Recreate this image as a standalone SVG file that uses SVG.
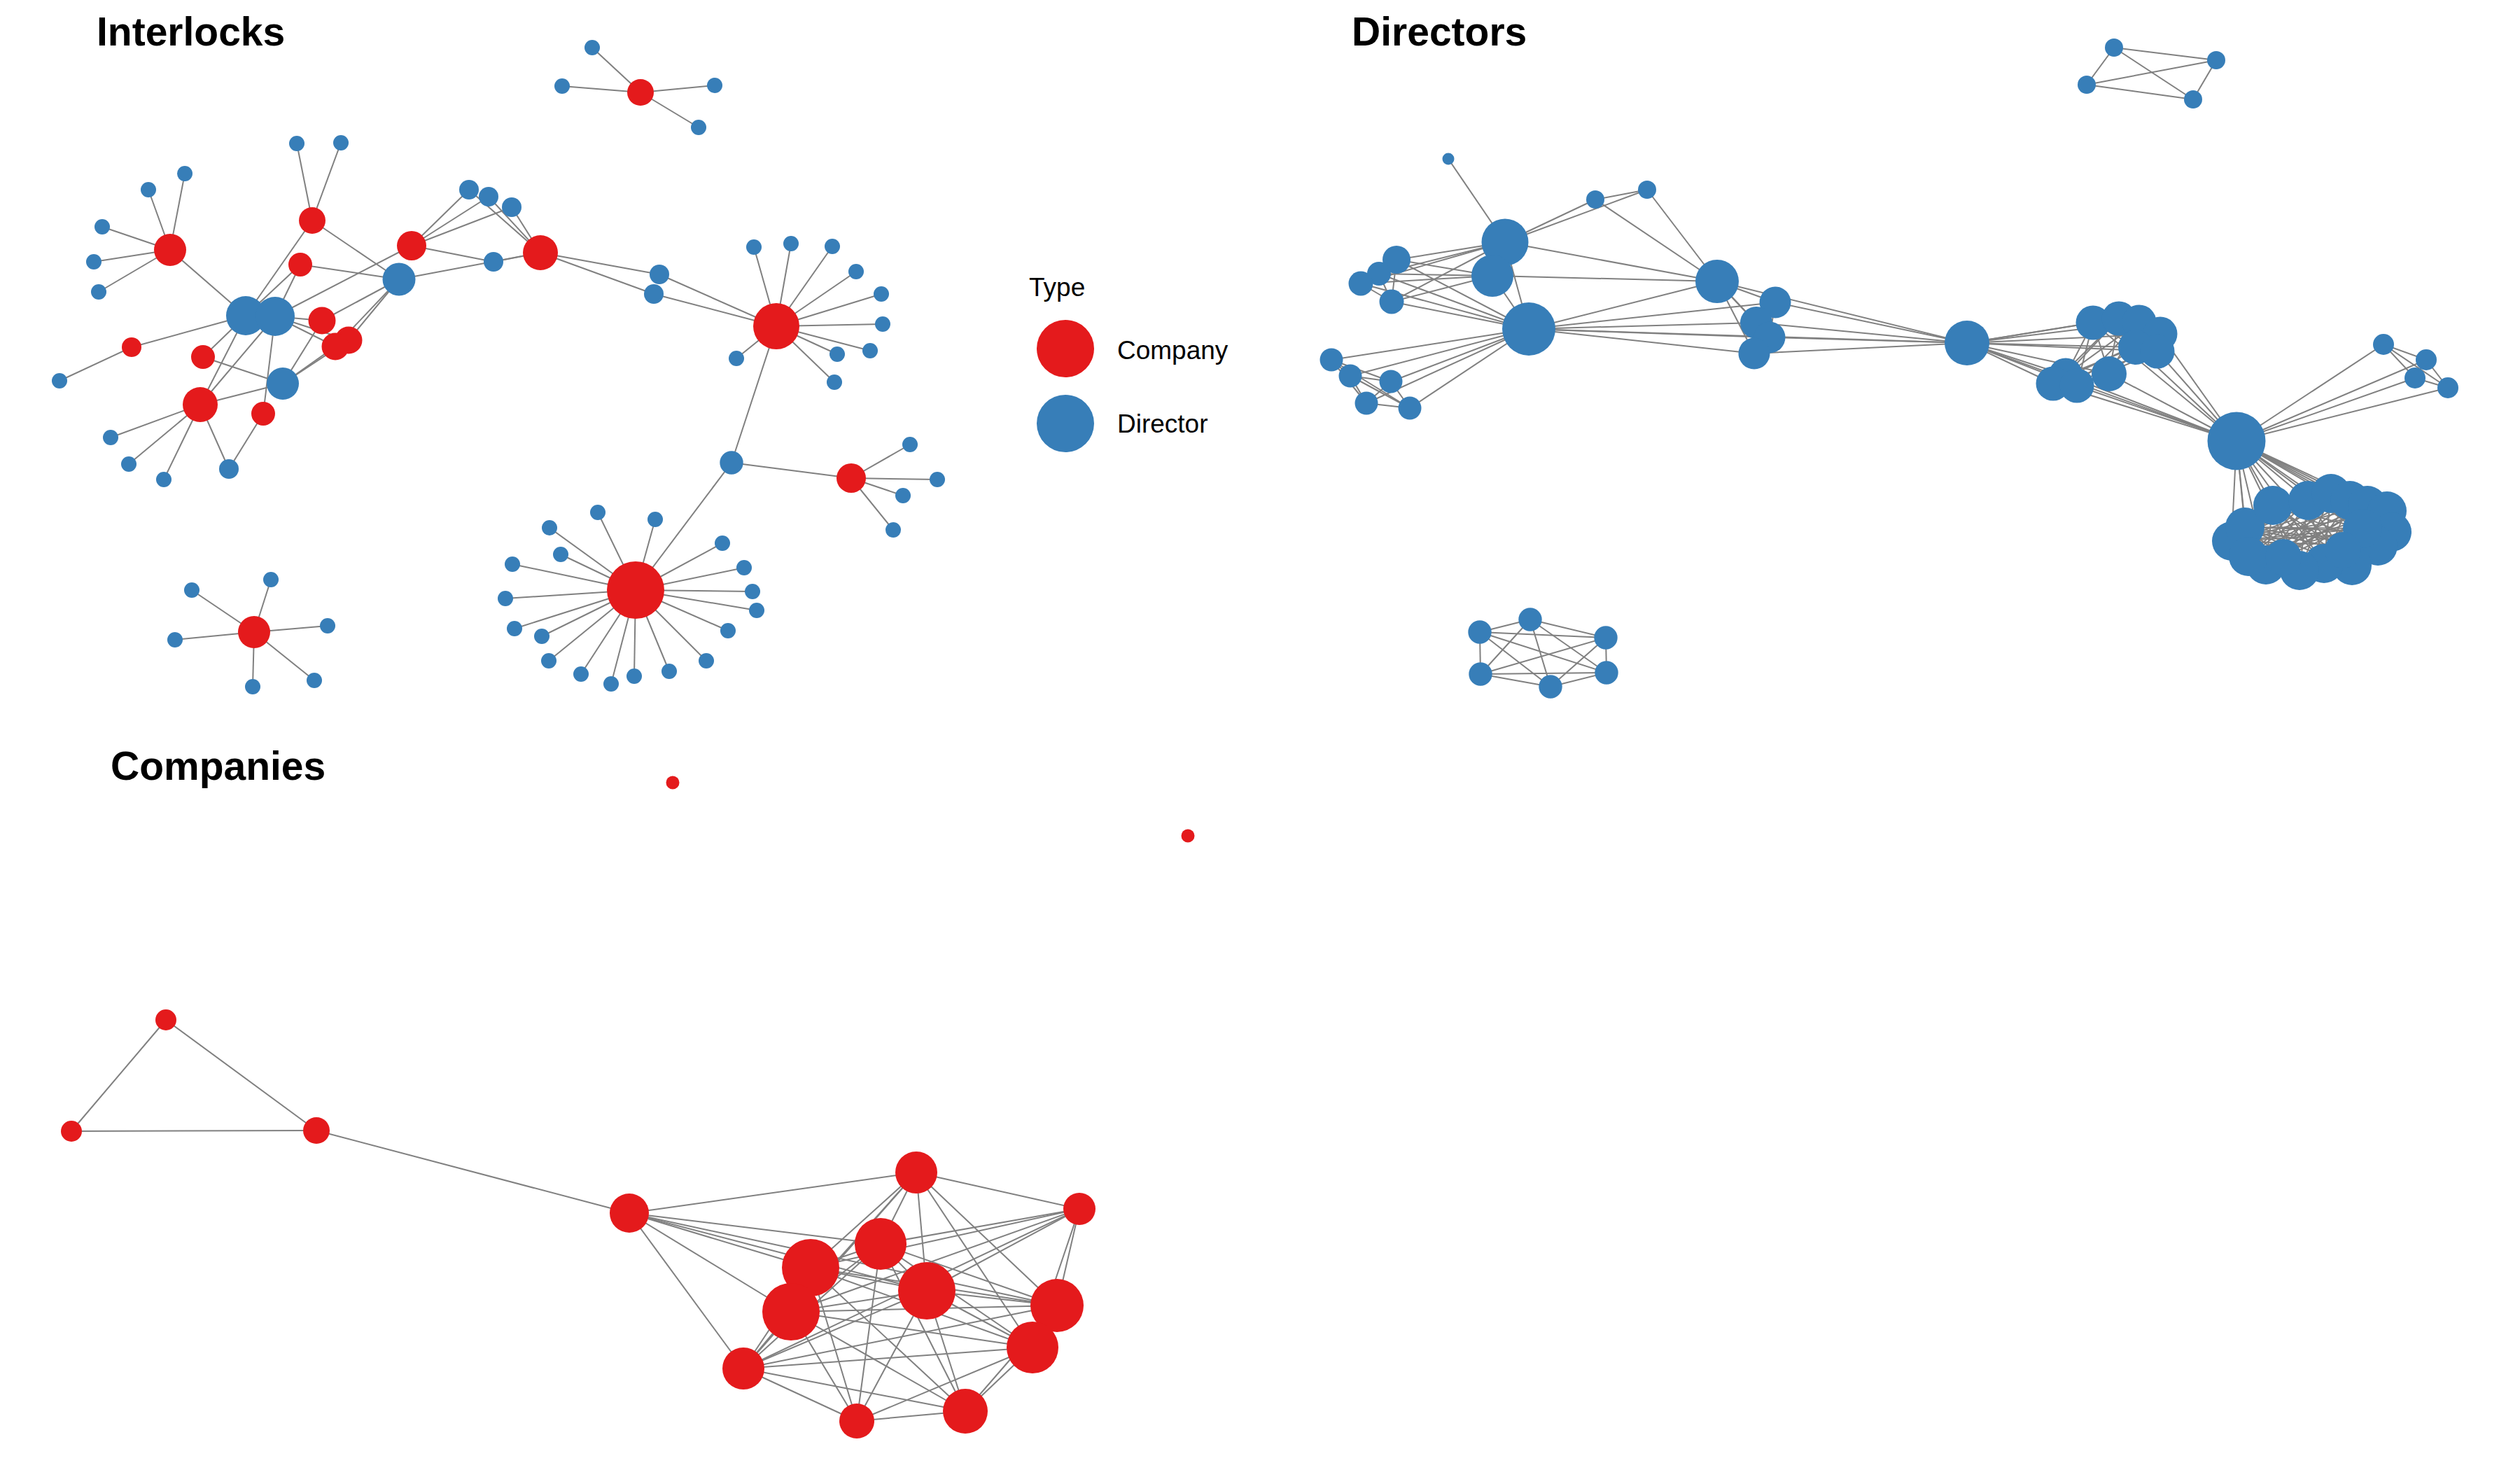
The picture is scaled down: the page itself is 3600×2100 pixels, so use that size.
<svg xmlns="http://www.w3.org/2000/svg" width="3600" height="2100" viewBox="0 0 3600 2100">
<style>
.e line{stroke:#808080;stroke-width:2}
.c{fill:#E41A1C}
.d{fill:#377EB8}
.t{font-family:"Liberation Sans",Arial,sans-serif;font-weight:bold;font-size:57px;fill:#000}
.l{font-family:"Liberation Sans",Arial,sans-serif;font-size:37px;fill:#000}
</style>
<rect width="3600" height="2100" fill="#fff"/>
<text class="t" x="138" y="65">Interlocks</text>
<text class="t" x="1931" y="65">Directors</text>
<text class="t" x="158" y="1114">Companies</text>
<g id="legend">
<text class="l" x="1470" y="423">Type</text>
<circle class="c" cx="1522" cy="498" r="41"/>
<text class="l" x="1596" y="513">Company</text>
<circle class="d" cx="1522" cy="605" r="41"/>
<text class="l" x="1596" y="618">Director</text>
</g>
<g id="connectors" class="e">
<line x1="915" y1="132" x2="846" y2="68"/><line x1="915" y1="132" x2="803" y2="123"/><line x1="915" y1="132" x2="1021" y2="122"/><line x1="915" y1="132" x2="998" y2="182"/>
<line x1="243" y1="357" x2="212" y2="271"/><line x1="243" y1="357" x2="264" y2="248"/><line x1="243" y1="357" x2="146" y2="324"/><line x1="243" y1="357" x2="134" y2="374"/><line x1="243" y1="357" x2="141" y2="417"/><line x1="243" y1="357" x2="351" y2="451"/>
<line x1="446" y1="315" x2="424" y2="205"/><line x1="446" y1="315" x2="487" y2="204"/><line x1="446" y1="315" x2="570" y2="399"/><line x1="446" y1="315" x2="351" y2="451"/>
<line x1="429" y1="378" x2="570" y2="399"/><line x1="429" y1="378" x2="351" y2="451"/><line x1="429" y1="378" x2="393" y2="452"/>
<line x1="588" y1="351" x2="670" y2="271"/><line x1="588" y1="351" x2="698" y2="281"/><line x1="588" y1="351" x2="731" y2="296"/><line x1="588" y1="351" x2="705" y2="374"/><line x1="588" y1="351" x2="393" y2="452"/>
<line x1="772" y1="361" x2="670" y2="271"/><line x1="772" y1="361" x2="698" y2="281"/><line x1="772" y1="361" x2="731" y2="296"/><line x1="772" y1="361" x2="705" y2="374"/><line x1="772" y1="361" x2="570" y2="399"/><line x1="772" y1="361" x2="942" y2="392"/><line x1="772" y1="361" x2="934" y2="420"/>
<line x1="460" y1="458" x2="570" y2="399"/><line x1="460" y1="458" x2="393" y2="452"/><line x1="460" y1="458" x2="404" y2="548"/>
<line x1="498" y1="486" x2="570" y2="399"/><line x1="498" y1="486" x2="393" y2="452"/><line x1="498" y1="486" x2="404" y2="548"/>
<line x1="479" y1="495" x2="570" y2="399"/><line x1="479" y1="495" x2="393" y2="452"/><line x1="479" y1="495" x2="404" y2="548"/>
<line x1="188" y1="496" x2="351" y2="451"/><line x1="188" y1="496" x2="85" y2="544"/>
<line x1="290" y1="510" x2="351" y2="451"/><line x1="290" y1="510" x2="404" y2="548"/>
<line x1="286" y1="578" x2="351" y2="451"/><line x1="286" y1="578" x2="393" y2="452"/><line x1="286" y1="578" x2="404" y2="548"/><line x1="286" y1="578" x2="158" y2="625"/><line x1="286" y1="578" x2="184" y2="663"/><line x1="286" y1="578" x2="234" y2="685"/><line x1="286" y1="578" x2="327" y2="670"/>
<line x1="376" y1="591" x2="393" y2="452"/><line x1="376" y1="591" x2="327" y2="670"/>
<line x1="1109" y1="466" x2="942" y2="392"/><line x1="1109" y1="466" x2="934" y2="420"/><line x1="1109" y1="466" x2="1077" y2="353"/><line x1="1109" y1="466" x2="1130" y2="348"/><line x1="1109" y1="466" x2="1189" y2="352"/><line x1="1109" y1="466" x2="1223" y2="388"/><line x1="1109" y1="466" x2="1259" y2="420"/><line x1="1109" y1="466" x2="1261" y2="463"/><line x1="1109" y1="466" x2="1243" y2="501"/><line x1="1109" y1="466" x2="1196" y2="506"/><line x1="1109" y1="466" x2="1192" y2="546"/><line x1="1109" y1="466" x2="1052" y2="512"/><line x1="1109" y1="466" x2="1045" y2="661"/>
<line x1="1216" y1="683" x2="1045" y2="661"/><line x1="1216" y1="683" x2="1300" y2="635"/><line x1="1216" y1="683" x2="1339" y2="685"/><line x1="1216" y1="683" x2="1290" y2="708"/><line x1="1216" y1="683" x2="1276" y2="757"/>
<line x1="908" y1="843" x2="1045" y2="661"/>
<line x1="908" y1="843" x2="854" y2="732"/><line x1="908" y1="843" x2="785" y2="754"/><line x1="908" y1="843" x2="801" y2="792"/><line x1="908" y1="843" x2="732" y2="806"/><line x1="908" y1="843" x2="722" y2="855"/><line x1="908" y1="843" x2="735" y2="898"/><line x1="908" y1="843" x2="774" y2="909"/><line x1="908" y1="843" x2="784" y2="944"/><line x1="908" y1="843" x2="830" y2="963"/><line x1="908" y1="843" x2="873" y2="977"/><line x1="908" y1="843" x2="906" y2="966"/><line x1="908" y1="843" x2="956" y2="959"/><line x1="908" y1="843" x2="1009" y2="944"/><line x1="908" y1="843" x2="1040" y2="901"/><line x1="908" y1="843" x2="1081" y2="872"/><line x1="908" y1="843" x2="1075" y2="845"/><line x1="908" y1="843" x2="1063" y2="811"/><line x1="908" y1="843" x2="1032" y2="776"/><line x1="908" y1="843" x2="936" y2="742"/>
<line x1="363" y1="903" x2="387" y2="828"/><line x1="363" y1="903" x2="274" y2="843"/><line x1="363" y1="903" x2="250" y2="914"/><line x1="363" y1="903" x2="468" y2="894"/><line x1="363" y1="903" x2="449" y2="972"/><line x1="363" y1="903" x2="361" y2="981"/>
<line x1="3020" y1="68" x2="3166" y2="86"/><line x1="3020" y1="68" x2="2981" y2="121"/><line x1="3020" y1="68" x2="3133" y2="142"/><line x1="2981" y1="121" x2="3166" y2="86"/><line x1="2981" y1="121" x2="3133" y2="142"/><line x1="3166" y1="86" x2="3133" y2="142"/>
<line x1="2114" y1="903" x2="2186" y2="885"/><line x1="2114" y1="903" x2="2294" y2="911"/><line x1="2114" y1="903" x2="2115" y2="963"/><line x1="2114" y1="903" x2="2295" y2="961"/><line x1="2114" y1="903" x2="2215" y2="981"/><line x1="2186" y1="885" x2="2294" y2="911"/><line x1="2186" y1="885" x2="2115" y2="963"/><line x1="2186" y1="885" x2="2295" y2="961"/><line x1="2186" y1="885" x2="2215" y2="981"/><line x1="2294" y1="911" x2="2115" y2="963"/><line x1="2294" y1="911" x2="2295" y2="961"/><line x1="2294" y1="911" x2="2215" y2="981"/><line x1="2115" y1="963" x2="2295" y2="961"/><line x1="2115" y1="963" x2="2215" y2="981"/><line x1="2295" y1="961" x2="2215" y2="981"/>
<line x1="2069" y1="227" x2="2150" y2="346"/>
<line x1="2150" y1="346" x2="2279" y2="285"/><line x1="2150" y1="346" x2="2353" y2="271"/><line x1="2279" y1="285" x2="2353" y2="271"/><line x1="2279" y1="285" x2="2453" y2="402"/><line x1="2353" y1="271" x2="2453" y2="402"/><line x1="2150" y1="346" x2="2453" y2="402"/><line x1="2132" y1="394" x2="2453" y2="402"/><line x1="2150" y1="346" x2="2132" y2="394"/><line x1="2132" y1="394" x2="2184" y2="470"/><line x1="2150" y1="346" x2="2184" y2="470"/>
<line x1="1995" y1="371" x2="2150" y2="346"/><line x1="1995" y1="371" x2="2132" y2="394"/><line x1="1995" y1="371" x2="2184" y2="470"/><line x1="1970" y1="391" x2="2150" y2="346"/><line x1="1970" y1="391" x2="2132" y2="394"/><line x1="1970" y1="391" x2="2184" y2="470"/><line x1="1944" y1="405" x2="2150" y2="346"/><line x1="1944" y1="405" x2="2132" y2="394"/><line x1="1944" y1="405" x2="2184" y2="470"/><line x1="1988" y1="431" x2="2150" y2="346"/><line x1="1988" y1="431" x2="2132" y2="394"/><line x1="1988" y1="431" x2="2184" y2="470"/>
<line x1="1995" y1="371" x2="1970" y2="391"/><line x1="1995" y1="371" x2="1944" y2="405"/><line x1="1995" y1="371" x2="1988" y2="431"/><line x1="1970" y1="391" x2="1944" y2="405"/><line x1="1970" y1="391" x2="1988" y2="431"/><line x1="1944" y1="405" x2="1988" y2="431"/>
<line x1="1902" y1="514" x2="2184" y2="470"/><line x1="1929" y1="537" x2="2184" y2="470"/><line x1="1987" y1="545" x2="2184" y2="470"/><line x1="1952" y1="576" x2="2184" y2="470"/><line x1="2014" y1="583" x2="2184" y2="470"/>
<line x1="1902" y1="514" x2="1929" y2="537"/><line x1="1902" y1="514" x2="1987" y2="545"/><line x1="1902" y1="514" x2="1952" y2="576"/><line x1="1902" y1="514" x2="2014" y2="583"/><line x1="1929" y1="537" x2="1987" y2="545"/><line x1="1929" y1="537" x2="1952" y2="576"/><line x1="1929" y1="537" x2="2014" y2="583"/><line x1="1987" y1="545" x2="1952" y2="576"/><line x1="1987" y1="545" x2="2014" y2="583"/><line x1="1952" y1="576" x2="2014" y2="583"/>
<line x1="2184" y1="470" x2="2453" y2="402"/><line x1="2184" y1="470" x2="2536" y2="432"/><line x1="2184" y1="470" x2="2509" y2="461"/><line x1="2184" y1="470" x2="2528" y2="482"/><line x1="2184" y1="470" x2="2506" y2="505"/>
<line x1="2453" y1="402" x2="2536" y2="432"/><line x1="2453" y1="402" x2="2509" y2="461"/><line x1="2453" y1="402" x2="2528" y2="482"/><line x1="2453" y1="402" x2="2506" y2="505"/>
<line x1="2536" y1="432" x2="2509" y2="461"/><line x1="2536" y1="432" x2="2528" y2="482"/><line x1="2536" y1="432" x2="2506" y2="505"/><line x1="2509" y1="461" x2="2528" y2="482"/><line x1="2509" y1="461" x2="2506" y2="505"/><line x1="2528" y1="482" x2="2506" y2="505"/>
<line x1="2810" y1="490" x2="2184" y2="470"/><line x1="2810" y1="490" x2="2453" y2="402"/><line x1="2810" y1="490" x2="2536" y2="432"/><line x1="2810" y1="490" x2="2509" y2="461"/><line x1="2810" y1="490" x2="2528" y2="482"/><line x1="2810" y1="490" x2="2506" y2="505"/>
<line x1="2810" y1="490" x2="2990" y2="461"/><line x1="2810" y1="490" x2="3027" y2="455"/><line x1="2810" y1="490" x2="3056" y2="460"/><line x1="2810" y1="490" x2="3086" y2="477"/><line x1="2810" y1="490" x2="3051" y2="496"/><line x1="2810" y1="490" x2="3082" y2="502"/><line x1="2810" y1="490" x2="3013" y2="534"/><line x1="2810" y1="490" x2="2951" y2="536"/><line x1="2810" y1="490" x2="2933" y2="548"/><line x1="2810" y1="490" x2="2967" y2="551"/>
<line x1="2990" y1="461" x2="3013" y2="534"/><line x1="2990" y1="461" x2="2951" y2="536"/><line x1="2990" y1="461" x2="2967" y2="551"/><line x1="3027" y1="455" x2="2951" y2="536"/><line x1="3027" y1="455" x2="2933" y2="548"/><line x1="3027" y1="455" x2="3013" y2="534"/><line x1="3056" y1="460" x2="2967" y2="551"/><line x1="3056" y1="460" x2="2951" y2="536"/><line x1="3056" y1="460" x2="3013" y2="534"/><line x1="3086" y1="477" x2="2933" y2="548"/><line x1="3086" y1="477" x2="3013" y2="534"/><line x1="3051" y1="496" x2="2951" y2="536"/><line x1="3051" y1="496" x2="2967" y2="551"/><line x1="3082" y1="502" x2="2967" y2="551"/><line x1="3082" y1="502" x2="2933" y2="548"/><line x1="2990" y1="461" x2="3082" y2="502"/><line x1="2990" y1="461" x2="3051" y2="496"/>
<line x1="3195" y1="630" x2="2810" y2="490"/><line x1="3195" y1="630" x2="2990" y2="461"/><line x1="3195" y1="630" x2="3086" y2="477"/><line x1="3195" y1="630" x2="3051" y2="496"/><line x1="3195" y1="630" x2="3082" y2="502"/><line x1="3195" y1="630" x2="3013" y2="534"/><line x1="3195" y1="630" x2="2951" y2="536"/><line x1="3195" y1="630" x2="2933" y2="548"/><line x1="3195" y1="630" x2="2967" y2="551"/>
<line x1="3195" y1="630" x2="3405" y2="492"/><line x1="3195" y1="630" x2="3466" y2="514"/><line x1="3195" y1="630" x2="3450" y2="540"/><line x1="3195" y1="630" x2="3497" y2="554"/>
<line x1="3405" y1="492" x2="3466" y2="514"/><line x1="3405" y1="492" x2="3450" y2="540"/><line x1="3405" y1="492" x2="3497" y2="554"/><line x1="3466" y1="514" x2="3450" y2="540"/><line x1="3466" y1="514" x2="3497" y2="554"/><line x1="3450" y1="540" x2="3497" y2="554"/>
<line x1="3195" y1="630" x2="3188" y2="773"/><line x1="3195" y1="630" x2="3207" y2="753"/><line x1="3195" y1="630" x2="3247" y2="722"/><line x1="3195" y1="630" x2="3297" y2="715"/><line x1="3195" y1="630" x2="3330" y2="705"/><line x1="3195" y1="630" x2="3357" y2="715"/><line x1="3195" y1="630" x2="3382" y2="722"/><line x1="3195" y1="630" x2="3410" y2="730"/><line x1="3195" y1="630" x2="3417" y2="760"/><line x1="3195" y1="630" x2="3397" y2="780"/><line x1="3195" y1="630" x2="3360" y2="808"/><line x1="3195" y1="630" x2="3320" y2="805"/><line x1="3195" y1="630" x2="3285" y2="815"/><line x1="3195" y1="630" x2="3237" y2="807"/><line x1="3195" y1="630" x2="3212" y2="795"/><line x1="3195" y1="630" x2="3375" y2="755"/>
<line x1="3207" y1="753" x2="3360" y2="808"/><line x1="3207" y1="753" x2="3320" y2="805"/><line x1="3207" y1="753" x2="3285" y2="815"/><line x1="3207" y1="753" x2="3397" y2="780"/><line x1="3207" y1="753" x2="3375" y2="755"/><line x1="3207" y1="753" x2="3417" y2="760"/>
<line x1="3247" y1="722" x2="3360" y2="808"/><line x1="3247" y1="722" x2="3320" y2="805"/><line x1="3247" y1="722" x2="3285" y2="815"/><line x1="3247" y1="722" x2="3237" y2="807"/><line x1="3247" y1="722" x2="3397" y2="780"/><line x1="3247" y1="722" x2="3212" y2="795"/>
<line x1="3297" y1="715" x2="3360" y2="808"/><line x1="3297" y1="715" x2="3320" y2="805"/><line x1="3297" y1="715" x2="3285" y2="815"/><line x1="3297" y1="715" x2="3237" y2="807"/><line x1="3297" y1="715" x2="3212" y2="795"/><line x1="3297" y1="715" x2="3188" y2="773"/>
<line x1="3330" y1="705" x2="3320" y2="805"/><line x1="3330" y1="705" x2="3285" y2="815"/><line x1="3330" y1="705" x2="3237" y2="807"/><line x1="3330" y1="705" x2="3212" y2="795"/><line x1="3330" y1="705" x2="3188" y2="773"/>
<line x1="3357" y1="715" x2="3285" y2="815"/><line x1="3357" y1="715" x2="3237" y2="807"/><line x1="3357" y1="715" x2="3212" y2="795"/><line x1="3357" y1="715" x2="3188" y2="773"/><line x1="3357" y1="715" x2="3320" y2="805"/>
<line x1="3382" y1="722" x2="3237" y2="807"/><line x1="3382" y1="722" x2="3212" y2="795"/><line x1="3382" y1="722" x2="3188" y2="773"/><line x1="3382" y1="722" x2="3285" y2="815"/>
<line x1="3410" y1="730" x2="3188" y2="773"/><line x1="3410" y1="730" x2="3212" y2="795"/><line x1="3410" y1="730" x2="3237" y2="807"/>
<line x1="3417" y1="760" x2="3188" y2="773"/><line x1="3375" y1="755" x2="3188" y2="773"/><line x1="3375" y1="755" x2="3212" y2="795"/><line x1="3375" y1="755" x2="3247" y2="722"/><line x1="3397" y1="780" x2="3188" y2="773"/><line x1="3360" y1="808" x2="3188" y2="773"/><line x1="3360" y1="808" x2="3212" y2="795"/>
<line x1="3262" y1="795" x2="3330" y2="705"/><line x1="3262" y1="795" x2="3382" y2="722"/><line x1="3345" y1="785" x2="3247" y2="722"/><line x1="3345" y1="785" x2="3207" y2="753"/>
<line x1="237" y1="1457" x2="102" y2="1616"/><line x1="237" y1="1457" x2="452" y2="1615"/><line x1="102" y1="1616" x2="452" y2="1615"/><line x1="452" y1="1615" x2="899" y2="1733"/>
<line x1="899" y1="1733" x2="1309" y2="1675"/><line x1="899" y1="1733" x2="1258" y2="1777"/><line x1="899" y1="1733" x2="1158" y2="1811"/><line x1="899" y1="1733" x2="1130" y2="1874"/><line x1="899" y1="1733" x2="1324" y2="1844"/><line x1="899" y1="1733" x2="1062" y2="1955"/><line x1="899" y1="1733" x2="1510" y2="1865"/>
<line x1="1309" y1="1675" x2="1542" y2="1727"/><line x1="1309" y1="1675" x2="1258" y2="1777"/><line x1="1309" y1="1675" x2="1158" y2="1811"/><line x1="1309" y1="1675" x2="1130" y2="1874"/><line x1="1309" y1="1675" x2="1324" y2="1844"/><line x1="1309" y1="1675" x2="1510" y2="1865"/><line x1="1309" y1="1675" x2="1475" y2="1925"/><line x1="1309" y1="1675" x2="1062" y2="1955"/>
<line x1="1542" y1="1727" x2="1258" y2="1777"/><line x1="1542" y1="1727" x2="1158" y2="1811"/><line x1="1542" y1="1727" x2="1130" y2="1874"/><line x1="1542" y1="1727" x2="1324" y2="1844"/><line x1="1542" y1="1727" x2="1510" y2="1865"/><line x1="1542" y1="1727" x2="1475" y2="1925"/><line x1="1542" y1="1727" x2="1062" y2="1955"/>
<line x1="1258" y1="1777" x2="1158" y2="1811"/><line x1="1258" y1="1777" x2="1130" y2="1874"/><line x1="1258" y1="1777" x2="1324" y2="1844"/><line x1="1258" y1="1777" x2="1510" y2="1865"/><line x1="1258" y1="1777" x2="1475" y2="1925"/><line x1="1258" y1="1777" x2="1062" y2="1955"/><line x1="1258" y1="1777" x2="1224" y2="2030"/><line x1="1258" y1="1777" x2="1379" y2="2016"/>
<line x1="1158" y1="1811" x2="1130" y2="1874"/><line x1="1158" y1="1811" x2="1324" y2="1844"/><line x1="1158" y1="1811" x2="1510" y2="1865"/><line x1="1158" y1="1811" x2="1475" y2="1925"/><line x1="1158" y1="1811" x2="1062" y2="1955"/><line x1="1158" y1="1811" x2="1224" y2="2030"/><line x1="1158" y1="1811" x2="1379" y2="2016"/>
<line x1="1130" y1="1874" x2="1324" y2="1844"/><line x1="1130" y1="1874" x2="1510" y2="1865"/><line x1="1130" y1="1874" x2="1475" y2="1925"/><line x1="1130" y1="1874" x2="1062" y2="1955"/><line x1="1130" y1="1874" x2="1224" y2="2030"/><line x1="1130" y1="1874" x2="1379" y2="2016"/>
<line x1="1324" y1="1844" x2="1510" y2="1865"/><line x1="1324" y1="1844" x2="1475" y2="1925"/><line x1="1324" y1="1844" x2="1062" y2="1955"/><line x1="1324" y1="1844" x2="1224" y2="2030"/><line x1="1324" y1="1844" x2="1379" y2="2016"/>
<line x1="1510" y1="1865" x2="1475" y2="1925"/><line x1="1510" y1="1865" x2="1062" y2="1955"/><line x1="1510" y1="1865" x2="1379" y2="2016"/>
<line x1="1475" y1="1925" x2="1062" y2="1955"/><line x1="1475" y1="1925" x2="1224" y2="2030"/><line x1="1475" y1="1925" x2="1379" y2="2016"/>
<line x1="1062" y1="1955" x2="1224" y2="2030"/><line x1="1062" y1="1955" x2="1379" y2="2016"/><line x1="1224" y1="2030" x2="1379" y2="2016"/>
</g>
<g id="i-c1"><circle class="c" cx="915" cy="132" r="19"/></g>
<g id="i-d1"><circle class="d" cx="846" cy="68" r="11"/></g>
<g id="i-d2"><circle class="d" cx="803" cy="123" r="11"/></g>
<g id="i-d3"><circle class="d" cx="1021" cy="122" r="11"/></g>
<g id="i-d4"><circle class="d" cx="998" cy="182" r="11"/></g>
<g id="i-d5"><circle class="d" cx="212" cy="271" r="11"/></g>
<g id="i-d6"><circle class="d" cx="264" cy="248" r="11"/></g>
<g id="i-d7"><circle class="d" cx="146" cy="324" r="11"/></g>
<g id="i-d8"><circle class="d" cx="134" cy="374" r="11"/></g>
<g id="i-d9"><circle class="d" cx="141" cy="417" r="11"/></g>
<g id="i-c2"><circle class="c" cx="243" cy="357" r="23"/></g>
<g id="i-d10"><circle class="d" cx="424" cy="205" r="11"/></g>
<g id="i-d11"><circle class="d" cx="487" cy="204" r="11"/></g>
<g id="i-c3"><circle class="c" cx="446" cy="315" r="19"/></g>
<g id="i-c4"><circle class="c" cx="429" cy="378" r="17"/></g>
<g id="i-d12"><circle class="d" cx="351" cy="451" r="28"/></g>
<g id="i-d13"><circle class="d" cx="393" cy="452" r="28"/></g>
<g id="i-d14"><circle class="d" cx="570" cy="399" r="23.5"/></g>
<g id="i-c5"><circle class="c" cx="588" cy="351" r="21"/></g>
<g id="i-d15"><circle class="d" cx="670" cy="271" r="14"/></g>
<g id="i-d16"><circle class="d" cx="698" cy="281" r="14"/></g>
<g id="i-d17"><circle class="d" cx="731" cy="296" r="14"/></g>
<g id="i-d18"><circle class="d" cx="705" cy="374" r="14"/></g>
<g id="i-c6"><circle class="c" cx="772" cy="361" r="25"/></g>
<g id="i-c7"><circle class="c" cx="460" cy="458" r="19.5"/></g>
<g id="i-c8"><circle class="c" cx="498" cy="486" r="19.5"/></g>
<g id="i-c9"><circle class="c" cx="479" cy="495" r="19.5"/></g>
<g id="i-c10"><circle class="c" cx="188" cy="496" r="14"/></g>
<g id="i-d19"><circle class="d" cx="85" cy="544" r="11"/></g>
<g id="i-c11"><circle class="c" cx="290" cy="510" r="17"/></g>
<g id="i-d20"><circle class="d" cx="404" cy="548" r="23"/></g>
<g id="i-c12"><circle class="c" cx="286" cy="578" r="25"/></g>
<g id="i-c13"><circle class="c" cx="376" cy="591" r="17"/></g>
<g id="i-d21"><circle class="d" cx="158" cy="625" r="11"/></g>
<g id="i-d22"><circle class="d" cx="184" cy="663" r="11"/></g>
<g id="i-d23"><circle class="d" cx="234" cy="685" r="11"/></g>
<g id="i-d24"><circle class="d" cx="327" cy="670" r="14"/></g>
<g id="i-d25"><circle class="d" cx="942" cy="392" r="14"/></g>
<g id="i-d26"><circle class="d" cx="934" cy="420" r="14"/></g>
<g id="i-c14"><circle class="c" cx="1109" cy="466" r="33"/></g>
<g id="i-d27"><circle class="d" cx="1077" cy="353" r="11"/></g>
<g id="i-d28"><circle class="d" cx="1130" cy="348" r="11"/></g>
<g id="i-d29"><circle class="d" cx="1189" cy="352" r="11"/></g>
<g id="i-d30"><circle class="d" cx="1223" cy="388" r="11"/></g>
<g id="i-d31"><circle class="d" cx="1259" cy="420" r="11"/></g>
<g id="i-d32"><circle class="d" cx="1261" cy="463" r="11"/></g>
<g id="i-d33"><circle class="d" cx="1243" cy="501" r="11"/></g>
<g id="i-d34"><circle class="d" cx="1196" cy="506" r="11"/></g>
<g id="i-d35"><circle class="d" cx="1192" cy="546" r="11"/></g>
<g id="i-d36"><circle class="d" cx="1052" cy="512" r="11"/></g>
<g id="i-d37"><circle class="d" cx="1045" cy="661" r="16.7"/></g>
<g id="i-c15"><circle class="c" cx="1216" cy="683" r="21"/></g>
<g id="i-d38"><circle class="d" cx="1300" cy="635" r="11"/></g>
<g id="i-d39"><circle class="d" cx="1339" cy="685" r="11"/></g>
<g id="i-d40"><circle class="d" cx="1290" cy="708" r="11"/></g>
<g id="i-d41"><circle class="d" cx="1276" cy="757" r="11"/></g>
<g id="i-c16"><circle class="c" cx="908" cy="843" r="41"/></g>
<g id="i-d42"><circle class="d" cx="854" cy="732" r="11"/></g>
<g id="i-d43"><circle class="d" cx="785" cy="754" r="11"/></g>
<g id="i-d44"><circle class="d" cx="801" cy="792" r="11"/></g>
<g id="i-d45"><circle class="d" cx="732" cy="806" r="11"/></g>
<g id="i-d46"><circle class="d" cx="722" cy="855" r="11"/></g>
<g id="i-d47"><circle class="d" cx="735" cy="898" r="11"/></g>
<g id="i-d48"><circle class="d" cx="774" cy="909" r="11"/></g>
<g id="i-d49"><circle class="d" cx="784" cy="944" r="11"/></g>
<g id="i-d50"><circle class="d" cx="830" cy="963" r="11"/></g>
<g id="i-d51"><circle class="d" cx="873" cy="977" r="11"/></g>
<g id="i-d52"><circle class="d" cx="906" cy="966" r="11"/></g>
<g id="i-d53"><circle class="d" cx="956" cy="959" r="11"/></g>
<g id="i-d54"><circle class="d" cx="1009" cy="944" r="11"/></g>
<g id="i-d55"><circle class="d" cx="1040" cy="901" r="11"/></g>
<g id="i-d56"><circle class="d" cx="1081" cy="872" r="11"/></g>
<g id="i-d57"><circle class="d" cx="1075" cy="845" r="11"/></g>
<g id="i-d58"><circle class="d" cx="1063" cy="811" r="11"/></g>
<g id="i-d59"><circle class="d" cx="1032" cy="776" r="11"/></g>
<g id="i-d60"><circle class="d" cx="936" cy="742" r="11"/></g>
<g id="i-c17"><circle class="c" cx="363" cy="903" r="23"/></g>
<g id="i-d61"><circle class="d" cx="387" cy="828" r="11"/></g>
<g id="i-d62"><circle class="d" cx="274" cy="843" r="11"/></g>
<g id="i-d63"><circle class="d" cx="250" cy="914" r="11"/></g>
<g id="i-d64"><circle class="d" cx="468" cy="894" r="11"/></g>
<g id="i-d65"><circle class="d" cx="449" cy="972" r="11"/></g>
<g id="i-d66"><circle class="d" cx="361" cy="981" r="11"/></g>
<g id="d-q1"><circle class="d" cx="3020" cy="68" r="13"/></g>
<g id="d-q2"><circle class="d" cx="3166" cy="86" r="13"/></g>
<g id="d-q3"><circle class="d" cx="2981" cy="121" r="13"/></g>
<g id="d-q4"><circle class="d" cx="3133" cy="142" r="13"/></g>
<g id="d-x1"><circle class="d" cx="2114" cy="903" r="16.7"/></g>
<g id="d-x2"><circle class="d" cx="2186" cy="885" r="16.7"/></g>
<g id="d-x3"><circle class="d" cx="2294" cy="911" r="16.7"/></g>
<g id="d-x4"><circle class="d" cx="2115" cy="963" r="16.7"/></g>
<g id="d-x5"><circle class="d" cx="2295" cy="961" r="16.7"/></g>
<g id="d-x6"><circle class="d" cx="2215" cy="981" r="16.7"/></g>
<g id="d-1"><circle class="d" cx="2069" cy="227" r="8.5"/></g>
<g id="d-2"><circle class="d" cx="2279" cy="285" r="13"/></g>
<g id="d-3"><circle class="d" cx="2353" cy="271" r="13"/></g>
<g id="d-4"><circle class="d" cx="2150" cy="346" r="33.5"/></g>
<g id="d-5"><circle class="d" cx="2132" cy="394" r="30"/></g>
<g id="d-6"><circle class="d" cx="2184" cy="470" r="38"/></g>
<g id="d-7"><circle class="d" cx="2453" cy="402" r="31"/></g>
<g id="d-8"><circle class="d" cx="2536" cy="432" r="22.5"/></g>
<g id="d-9"><circle class="d" cx="2509" cy="461" r="23"/></g>
<g id="d-10"><circle class="d" cx="2528" cy="482" r="22.5"/></g>
<g id="d-11"><circle class="d" cx="2506" cy="505" r="22.5"/></g>
<g id="d-e1"><circle class="d" cx="1995" cy="371" r="20"/></g>
<g id="d-e2"><circle class="d" cx="1970" cy="391" r="17"/></g>
<g id="d-e3"><circle class="d" cx="1944" cy="405" r="17.5"/></g>
<g id="d-e4"><circle class="d" cx="1988" cy="431" r="17.5"/></g>
<g id="d-f1"><circle class="d" cx="1902" cy="514" r="16.5"/></g>
<g id="d-f2"><circle class="d" cx="1929" cy="537" r="16.5"/></g>
<g id="d-f3"><circle class="d" cx="1987" cy="545" r="16.5"/></g>
<g id="d-f4"><circle class="d" cx="1952" cy="576" r="16.5"/></g>
<g id="d-f5"><circle class="d" cx="2014" cy="583" r="16.5"/></g>
<g id="d-h"><circle class="d" cx="2810" cy="490" r="32"/></g>
<g id="d-g1"><circle class="d" cx="2990" cy="461" r="24.5"/></g>
<g id="d-g2"><circle class="d" cx="3027" cy="455" r="24.5"/></g>
<g id="d-g3"><circle class="d" cx="3056" cy="460" r="24.5"/></g>
<g id="d-g4"><circle class="d" cx="3086" cy="477" r="24.5"/></g>
<g id="d-g5"><circle class="d" cx="3051" cy="496" r="25"/></g>
<g id="d-g6"><circle class="d" cx="3082" cy="502" r="24.5"/></g>
<g id="d-g7"><circle class="d" cx="3013" cy="534" r="25"/></g>
<g id="d-g8"><circle class="d" cx="2951" cy="536" r="24.5"/></g>
<g id="d-g9"><circle class="d" cx="2933" cy="548" r="24.5"/></g>
<g id="d-g10"><circle class="d" cx="2967" cy="551" r="24.5"/></g>
<g id="d-bh"><circle class="d" cx="3195" cy="630" r="41.5"/></g>
<g id="d-r1"><circle class="d" cx="3405" cy="492" r="15"/></g>
<g id="d-r2"><circle class="d" cx="3466" cy="514" r="15"/></g>
<g id="d-r3"><circle class="d" cx="3450" cy="540" r="15"/></g>
<g id="d-r4"><circle class="d" cx="3497" cy="554" r="15"/></g>
<g id="d-b1"><circle class="d" cx="3188" cy="773" r="28"/></g>
<g id="d-b2"><circle class="d" cx="3207" cy="753" r="28"/></g>
<g id="d-b3"><circle class="d" cx="3247" cy="722" r="28"/></g>
<g id="d-b4"><circle class="d" cx="3297" cy="715" r="28"/></g>
<g id="d-b5"><circle class="d" cx="3330" cy="705" r="28"/></g>
<g id="d-b6"><circle class="d" cx="3357" cy="715" r="28"/></g>
<g id="d-b7"><circle class="d" cx="3382" cy="722" r="28"/></g>
<g id="d-b8"><circle class="d" cx="3410" cy="730" r="28"/></g>
<g id="d-b9"><circle class="d" cx="3417" cy="760" r="28"/></g>
<g id="d-b10"><circle class="d" cx="3397" cy="780" r="28"/></g>
<g id="d-b11"><circle class="d" cx="3360" cy="808" r="28"/></g>
<g id="d-b12"><circle class="d" cx="3320" cy="805" r="28"/></g>
<g id="d-b13"><circle class="d" cx="3285" cy="815" r="28"/></g>
<g id="d-b14"><circle class="d" cx="3237" cy="807" r="28"/></g>
<g id="d-b15"><circle class="d" cx="3212" cy="795" r="28"/></g>
<g id="d-b16"><circle class="d" cx="3375" cy="755" r="28"/></g>
<g id="d-b17"><circle class="d" cx="3262" cy="796" r="26"/></g>
<g id="d-b18"><circle class="d" cx="3347" cy="786" r="26"/></g>
<g id="c-1"><circle class="c" cx="237" cy="1457" r="15"/></g>
<g id="c-2"><circle class="c" cx="102" cy="1616" r="15"/></g>
<g id="c-3"><circle class="c" cx="452" cy="1615" r="19"/></g>
<g id="c-4"><circle class="c" cx="961" cy="1118" r="9.5"/></g>
<g id="c-5"><circle class="c" cx="1697" cy="1194" r="9.5"/></g>
<g id="c-6"><circle class="c" cx="899" cy="1733" r="28"/></g>
<g id="c-7"><circle class="c" cx="1309" cy="1675" r="30"/></g>
<g id="c-8"><circle class="c" cx="1542" cy="1727" r="23"/></g>
<g id="c-9"><circle class="c" cx="1258" cy="1777" r="37"/></g>
<g id="c-10"><circle class="c" cx="1158" cy="1811" r="41"/></g>
<g id="c-11"><circle class="c" cx="1130" cy="1874" r="41"/></g>
<g id="c-12"><circle class="c" cx="1324" cy="1844" r="41"/></g>
<g id="c-13"><circle class="c" cx="1510" cy="1865" r="38"/></g>
<g id="c-14"><circle class="c" cx="1475" cy="1925" r="37"/></g>
<g id="c-15"><circle class="c" cx="1062" cy="1955" r="30"/></g>
<g id="c-16"><circle class="c" cx="1224" cy="2030" r="25"/></g>
<g id="c-17"><circle class="c" cx="1379" cy="2016" r="32"/></g>
</svg>
